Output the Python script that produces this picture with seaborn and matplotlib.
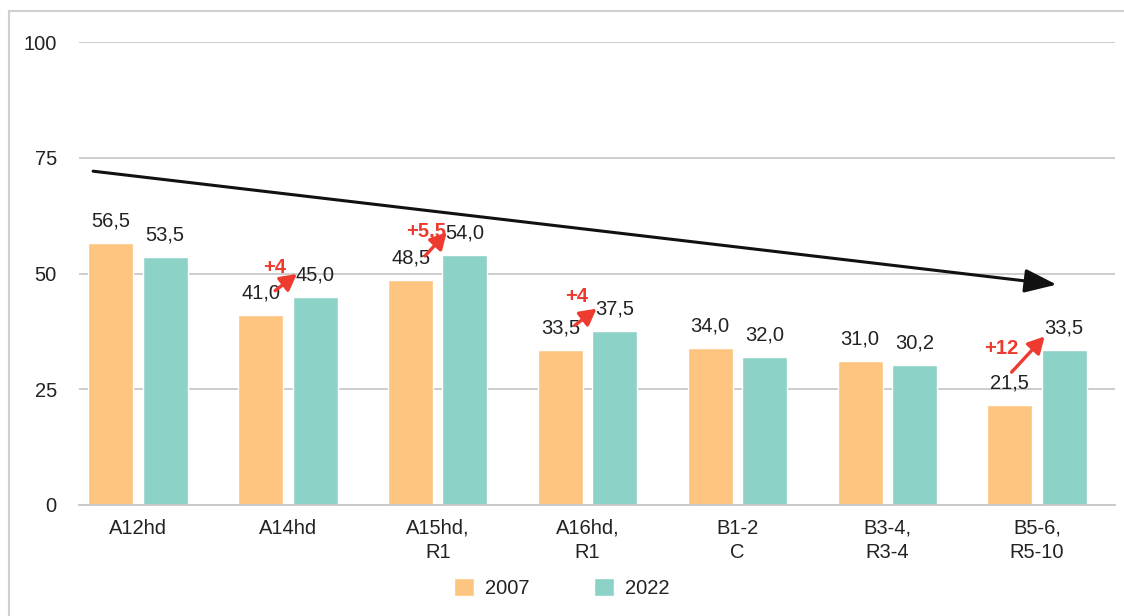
import pandas as pd
import matplotlib.pyplot as plt
import seaborn as sns
from matplotlib.patches import Patch, Rectangle

# Data
categories = ['A12hd', 'A14hd', 'A15hd,\nR1', 'A16hd,\nR1', 'B1-2\nC', 'B3-4,\nR3-4', 'B5-6,\nR5-10']
years = ['2007', '2022']
values_2007 = [56.5, 41.0, 48.5, 33.5, 34.0, 31.0, 21.5]
values_2022 = [53.5, 45.0, 54.0, 37.5, 32.0, 30.2, 33.5]
highlight = [1, 2, 3, 6]  # groups with a red growth arrow

df = pd.DataFrame({
    'category': categories * 2,
    'year': [years[0]] * len(categories) + [years[1]] * len(categories),
    'value': values_2007 + values_2022,
})

sns.set_style('white')
plt.rcParams['font.family'] = ['Liberation Sans', 'DejaVu Sans']
text_color = '#222222'
grid_color = '#c8c8c8'
colors = {'2007': '#fdc57f', '2022': '#8dd2c6'}
fs = 14.5

fig = plt.figure(figsize=(11.24, 6.16), dpi=100)
ax = fig.add_axes([0.0703, 0.1802, 0.9217, 0.7516])

sns.barplot(data=df, x='category', y='value', hue='year', palette=colors,
            width=0.725, gap=0.17, saturation=1, ax=ax, legend=False)

ax.set_ylim(0, 100)
ax.set_xlim(-0.394, 6.52)
ax.set_yticks([0, 25, 50, 75, 100])
ax.yaxis.grid(True, color=grid_color, lw=1.3)
ax.set_axisbelow(True)
for s in ['left', 'right', 'top']:
    ax.spines[s].set_visible(False)
ax.spines['bottom'].set_color(grid_color)
ax.spines['bottom'].set_linewidth(1.3)
ax.tick_params(axis='both', length=0, labelsize=fs, labelcolor=text_color)
ax.tick_params(axis='y', pad=16)
ax.tick_params(axis='x', pad=10)
ax.set_xlabel('')
ax.set_ylabel('')
for lbl in ax.get_xticklabels():
    lbl.set_linespacing(1.35)

# value labels with decimal comma
for cont, vals in zip(ax.containers, [values_2007, values_2022]):
    ax.bar_label(cont, labels=[f'{v:.1f}'.replace('.', ',') for v in vals],
                 padding=9, fontsize=fs, color=text_color)

# red growth arrows
arrow_layout = {
    1: ((-0.085, 5.3), (0.06, 4.9), (-0.09, 10.4)),
    2: ((-0.085, 5.3), (0.06, 4.9), (-0.075, 10.6)),
    3: ((-0.085, 5.3), (0.06, 4.9), (-0.07, 11.6)),
    6: ((-0.17, 7.2), (0.05, 2.9), (-0.24, 12.2)),
}
red = '#ee3a2f'
for i in highlight:
    (sx, sy), (ex, ey), (tx, ty) = arrow_layout[i]
    v0, v1 = values_2007[i], values_2022[i]
    ax.annotate('', xy=(i + ex, v1 + ey), xytext=(i + sx, v0 + sy),
                arrowprops=dict(arrowstyle='-|>,head_length=0.7,head_width=0.38',
                                color=red, lw=2.4,
                                mutation_scale=14, shrinkA=0, shrinkB=0))
    diff = f'+{v1 - v0:g}'.replace('.', ',')
    ax.text(i + tx, v0 + ty, diff, color=red, fontsize=fs, fontweight='bold',
            ha='center', va='center')

# black trend arrow
ax.annotate('', xy=(6.13, 47.6), xytext=(-0.30, 72.1),
            arrowprops=dict(arrowstyle='-|>,head_length=0.7,head_width=0.26',
                            color='#111111', lw=2.2,
                            mutation_scale=28, shrinkA=0, shrinkB=0))

handles = [Patch(facecolor=colors[y], label=y) for y in years]
fig.legend(handles=handles, loc='lower center', bbox_to_anchor=(0.5, 0.0),
           ncol=2, frameon=False, fontsize=fs, handlelength=1.0,
           handleheight=1.0, handletextpad=0.55, columnspacing=3.2,
           labelcolor=text_color)

# figure frame
fig.patches.append(Rectangle((0.008, -0.1), 1.2, 1.082, transform=fig.transFigure,
                             fill=False, edgecolor='#d0d0d0', lw=1.5))

fig.savefig('out.png', dpi=100)
